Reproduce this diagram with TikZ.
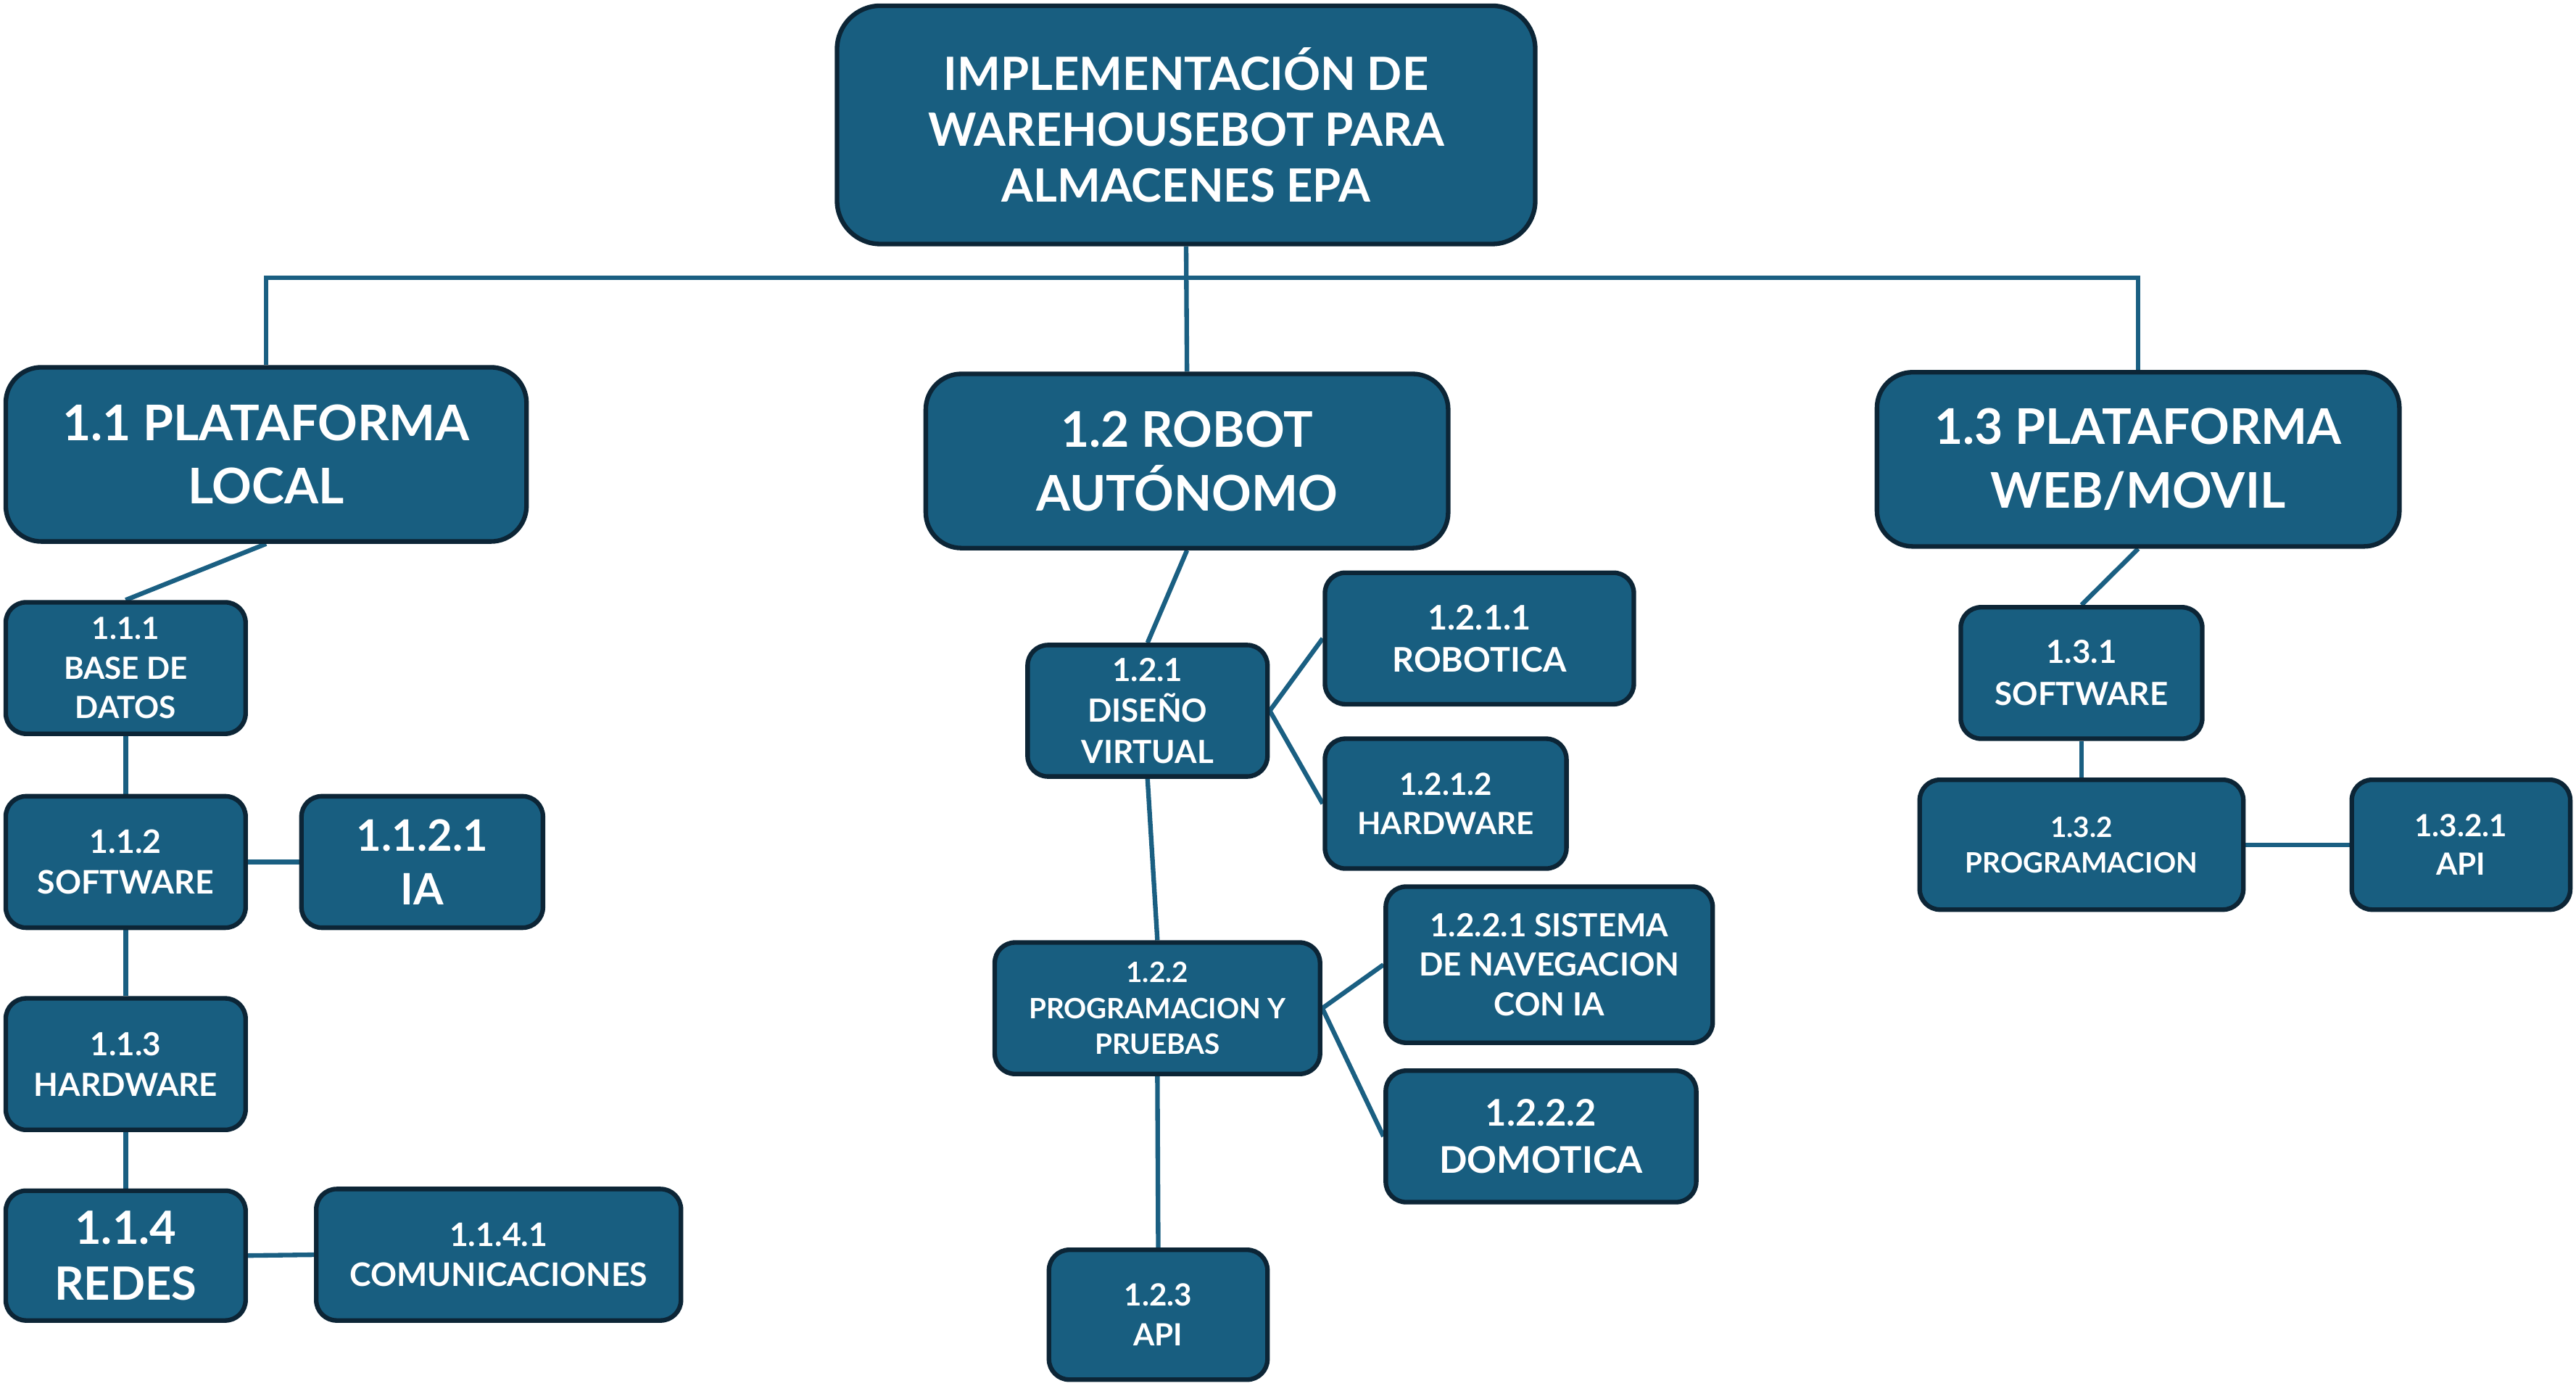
\documentclass[tikz,border=0pt]{standalone}
\usepackage{fontspec}
\setmainfont{Lato}[UprightFont=* Bold]
\usetikzlibrary{backgrounds}
\definecolor{boxfill}{HTML}{185E80}
\definecolor{boxline}{HTML}{0C2536}
\definecolor{connline}{HTML}{1A5F82}
\newcommand\myu{0.022659cm}
\newcommand\fs[2]{\fontsize{#1}{#2}\selectfont}
\tikzset{
  box/.style={draw=boxline, fill=boxfill, line width=1.8pt, text=white,
    align=center, inner sep=0pt, rounded corners=8pt},
  bigbox/.style={box, rounded corners=14pt},
  rootbox/.style={box, rounded corners=17pt},
  sz/.style 2 args={minimum width=#1*\myu, minimum height=#2*\myu},
  conn/.style={draw=connline, line width=1.8pt},
}
\begin{document}
\begin{tikzpicture}[x=\myu, y=-\myu]
\useasboundingbox (0,0) rectangle (1568,843);
% root
\node[rootbox, sz={425}{145}, font=\fs{18}{22}] (root) at (722,76)
  {IMPLEMENTACIÓN DE\\WAREHOUSEBOT PARA\\ALMACENES EPA};
% level 1
\node[bigbox, sz={317}{106}, font=\fs{19.3}{25}] (p11) at (162,276.5) {1.1 PLATAFORMA\\LOCAL};
\node[bigbox, sz={318}{106}, font=\fs{19.3}{25}] (p12) at (722.5,280.5) {1.2 ROBOT\\AUTÓNOMO};
\node[bigbox, sz={318}{106}, font=\fs{19.3}{25}] (p13) at (1301.5,279.5) {1.3 PLATAFORMA\\WEB/MOVIL};
% branch 1.1
\node[box, sz={146}{80}, font=\fs{12}{15.5}] (n111) at (76.5,406.5) {1.1.1\\BASE DE\\DATOS};
\node[box, sz={146}{80}, font=\fs{12.7}{16}] (n112) at (76.5,524.5) {1.1.2\\SOFTWARE};
\node[box, sz={147}{80}, font=\fs{17}{21}] (n1121) at (257,524.5) {1.1.2.1\\IA};
\node[box, sz={146}{80}, font=\fs{12.5}{16}] (n113) at (76.5,647.5) {1.1.3\\HARDWARE};
\node[box, sz={146}{79}, font=\fs{18}{22}] (n114) at (76.5,764) {1.1.4\\REDES};
\node[box, sz={222}{80}, font=\fs{12.7}{15.5}] (n1141) at (303.5,763.5) {1.1.4.1\\COMUNICACIONES};
% branch 1.2
\node[box, sz={146}{80}, font=\fs{12.5}{16}] (n121) at (698.5,432.5) {1.2.1\\DISEÑO\\VIRTUAL};
\node[box, sz={188}{80}, font=\fs{13.3}{16.5}] (n1211) at (900.5,388.5) {1.2.1.1\\ROBOTICA};
\node[box, sz={147}{79}, font=\fs{12}{15.5}] (n1212) at (880,489) {1.2.1.2\\HARDWARE};
\node[box, sz={198}{80}, font=\fs{11}{14}] (n122) at (704.5,613.5) {1.2.2\\PROGRAMACION Y\\PRUEBAS};
\node[box, sz={199}{95}, font=\fs{12.5}{15.5}] (n1221) at (943,587) {1.2.2.1 SISTEMA\\DE NAVEGACION\\CON IA};
\node[box, sz={189}{80}, font=\fs{14.4}{18.5}] (n1222) at (938,691.5) {1.2.2.2\\DOMOTICA};
\node[box, sz={133}{79}, font=\fs{12}{15.5}] (n123) at (705,800) {1.2.3\\API};
% branch 1.3
\node[box, sz={147}{80}, font=\fs{12.5}{16.5}] (n131) at (1267,409.5) {1.3.1\\SOFTWARE};
\node[box, sz={197}{79}, font=\fs{11}{14}] (n132) at (1267,514) {1.3.2\\PROGRAMACION};
\node[box, sz={133}{79}, font=\fs{12}{15}] (n1321) at (1498,514) {1.3.2.1\\API};
% connectors
\coordinate (bus) at (0,169);
\begin{scope}[on background layer]
\draw[conn] (p11.north) -- (p11.north |- bus) -- (p13.north |- bus) -- (p13.north);
\draw[conn] (root.south) -- (p12.north);
\draw[conn] (p11.south) -- (n111.north);
\draw[conn] (n111.south) -- (n112.north);
\draw[conn] (n112.south) -- (n113.north);
\draw[conn] (n113.south) -- (n114.north);
\draw[conn] (n112.east) -- (n1121.west);
\draw[conn] (n114.east) -- (n1141.west);
\draw[conn] (p12.south) -- (n121.north);
\draw[conn] (n121.east) -- (n1211.west);
\draw[conn] (n121.east) -- (n1212.west);
\draw[conn] (n121.south) -- (n122.north);
\draw[conn] (n122.east) -- (n1221.west);
\draw[conn] (n122.east) -- (n1222.west);
\draw[conn] (n122.south) -- (n123.north);
\draw[conn] (p13.south) -- (n131.north);
\draw[conn] (n131.south) -- (n132.north);
\draw[conn] (n132.east) -- (n1321.west);
\end{scope}
\end{tikzpicture}
\end{document}
